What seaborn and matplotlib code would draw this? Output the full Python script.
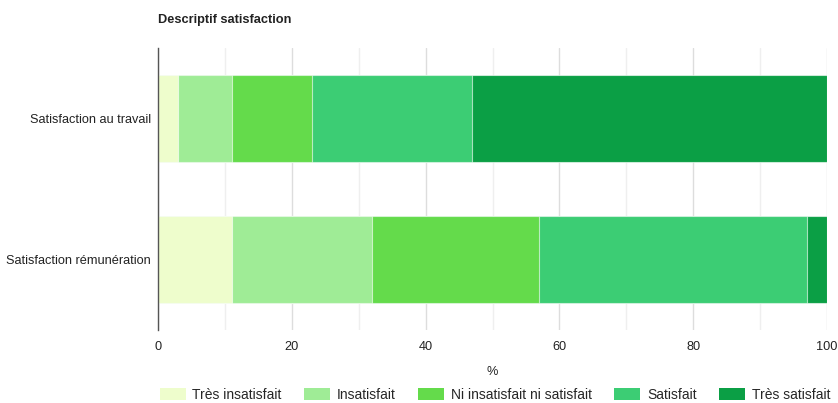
import matplotlib
matplotlib.use("Agg")
import matplotlib.pyplot as plt
import seaborn as sns
import numpy as np
import pandas as pd
from matplotlib.patches import Patch
from matplotlib.ticker import MultipleLocator

categories = ["Satisfaction au travail", "Satisfaction rémunération"]
series_names = ["Très insatisfait", "Insatisfait", "Ni insatisfait ni satisfait", "Satisfait", "Très satisfait"]
tres_insatisfait = [3, 11]
insatisfait = [8, 21]
ni_ni = [12, 25]
satisfait = [24, 40]
tres_satisfait = [53, 3]
colors = ["#EEFDCC", "#9FEC96", "#64DB4B", "#3CCD74", "#0B9F45"]

sns.set_theme(style="white")
plt.rcParams["font.family"] = ["Liberation Sans", "DejaVu Sans"]

values = [tres_insatisfait, insatisfait, ni_ni, satisfait, tres_satisfait]
cum = np.cumsum(np.array(values), axis=0)

fig = plt.figure(figsize=(8.38, 4.03), dpi=100)
ax = fig.add_axes([158 / 838, 1 - 330 / 403, (827 - 158) / 838, (330 - 48) / 403])

for i in range(len(series_names) - 1, -1, -1):
    df = pd.DataFrame({"cat": categories, "val": cum[i]})
    sns.barplot(data=df, y="cat", x="val", orient="h", color=colors[i],
                saturation=1, width=0.61, edgecolor=(1, 1, 1, 0.6), linewidth=0.8, ax=ax)

ax.set_xlim(0, 100)
ax.set_ylim(1.5, -0.5)
ax.xaxis.set_major_locator(MultipleLocator(20))
ax.xaxis.set_minor_locator(MultipleLocator(10))
ax.grid(True, which="major", axis="x", color="#dddddd", linewidth=1.0)
ax.grid(True, which="minor", axis="x", color="#efefef", linewidth=1.0)
ax.set_axisbelow(True)
for s in ["top", "right", "bottom"]:
    ax.spines[s].set_visible(False)
ax.spines["left"].set_color("#555555")
ax.spines["left"].set_linewidth(1.0)
ax.tick_params(axis="x", which="both", length=0, labelsize=9.2, pad=8, colors="#222222")
ax.tick_params(axis="y", length=0, labelsize=9.2, pad=5, colors="#222222")
ax.set_ylabel("")
ax.set_xlabel("%", fontsize=9.2, color="#222222", labelpad=9)

fig.text(158 / 838, 1 - 20 / 403, "Descriptif satisfaction", fontsize=9.2, fontweight="bold",
         ha="left", va="center", color="#222222")

handles = [Patch(facecolor=c, edgecolor="none") for c in colors]
fig.legend(handles, series_names, loc="center", bbox_to_anchor=(495 / 838, 1 - 395 / 403), ncol=5,
           frameon=False, fontsize=10, handlelength=1.87, handleheight=1.0, columnspacing=1.6,
           handletextpad=0.5, borderaxespad=0, borderpad=0)

fig.savefig("out.png", dpi=100)
